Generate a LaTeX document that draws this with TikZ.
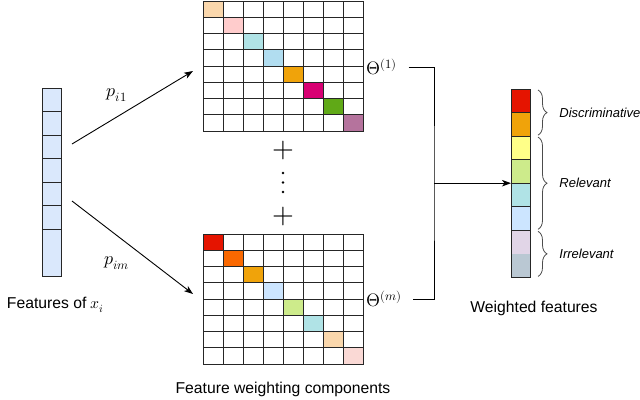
\documentclass[tikz,border=0pt]{standalone}
\usepackage{fontspec}
\usepackage{unicode-math}
\setmainfont{Liberation Sans}
\usetikzlibrary{positioning,arrows.meta,decorations.pathreplacing}

\definecolor{cRed}{HTML}{E51400}
\definecolor{cOrange}{HTML}{FA6800}
\definecolor{cAmber}{HTML}{F0A30A}
\definecolor{cYellow}{HTML}{FFFF88}
\definecolor{cLime}{HTML}{CDEB8B}
\definecolor{cCyan}{HTML}{B0E3E6}
\definecolor{cSky}{HTML}{CCE5FF}
\definecolor{cLilac}{HTML}{E1D5E7}
\definecolor{cSlate}{HTML}{BAC8D3}
\definecolor{cPeach}{HTML}{FAD7AC}
\definecolor{cPink}{HTML}{FFCCCC}
\definecolor{cBlue}{HTML}{B1DDF0}
\definecolor{cMagenta}{HTML}{D80073}
\definecolor{cGreen}{HTML}{60A917}
\definecolor{cMauve}{HTML}{B5739D}
\definecolor{cRose}{HTML}{FAD9D5}
\definecolor{cFeat}{HTML}{DAE8FC}

\begin{document}
\begin{tikzpicture}[
  x=1pt, y=-1pt,
  font=\fontsize{15.7}{18}\selectfont,
  >={Stealth[length=9pt,width=6.5pt,inset=2.5pt]},
  line width=0.9pt,
  vcell/.style={minimum width=19pt, minimum height=23.55pt, inner sep=0pt, outer sep=0pt},
  mcell/.style={draw=black!85, fill=white, minimum width=20pt, minimum height=16.25pt,
                inner sep=0pt, outer sep=0pt},
  col/.style={draw=black!85, minimum width=19pt, minimum height=188.4pt, inner sep=0pt, outer sep=0pt},
  grp/.style={minimum width=160pt, minimum height=130pt, inner sep=0pt, outer sep=0pt},
  lbl/.style={inner sep=1pt},
  mlbl/.style={inner sep=1pt, font=\fontsize{18}{20}\selectfont},
  brc/.style={draw=black!70, line width=0.8pt, decorate, decoration={brace, amplitude=9pt}},
  side/.style={inner sep=1pt, font=\fontsize{13}{15}\selectfont\itshape},
  dot/.style={circle, fill, inner sep=0pt, minimum size=2.8pt},
]
\useasboundingbox (0,0) rectangle (640,399);

% features of x_i
\foreach \k in {0,...,7}
  \node[vcell, fill=cFeat] (f\k) at (51.5, 99.8+23.55*\k) {};
\node[col] (feat) at (51.5, 182.2) {};
\foreach \k in {0,...,5}
  \draw[black!85] (f\k.south west) -- (f\k.south east);
\node[lbl, below=19.5pt of feat, xshift=4pt] (featlbl) {Features of $x_i$};

% weighting components
\foreach \m/\ytop in {1/1, m/234} {
  \node[grp] (comp\m) at (283, \ytop+65) {};
  \foreach \r in {0,...,7}
    \foreach \c in {0,...,7}
      \node[mcell] (c\m\r\c) at (213+20*\c, \ytop+8.125+16.25*\r) {};
}
\foreach \col [count=\k from 0] in {cPeach,cPink,cCyan,cBlue,cAmber,cMagenta,cGreen,cMauve}
  \node[mcell, fill=\col] (d1\k) at (213+20*\k, 9.125+16.25*\k) {};
\foreach \col [count=\k from 0] in {cRed,cOrange,cAmber,cSky,cLime,cCyan,cPeach,cRose}
  \node[mcell, fill=\col] (dm\k) at (213+20*\k, 242.125+16.25*\k) {};
\node[lbl, below=17pt of compm] (complbl) {Feature weighting components};

\node (plus1) at (283,150) {\fontsize{28}{28}\selectfont$+$};
\foreach \k in {0,1,2}
  \node[dot] (dt\k) at (283,173+9.5*\k) {};
\node (plus2) at (283,216) {\fontsize{28}{28}\selectfont$+$};

\draw[->] ([shift={(11,-38.2)}]feat.east) -- ([shift={(-10,5)}]comp1.west)
  node[mlbl, pos=0.37, above=14pt] (p1) {$p_{i1}$};
\draw[->] ([shift={(11,18.8)}]feat.east) -- ([shift={(-10,-5)}]compm.west)
  node[mlbl, pos=0.37, below=20pt] (pm) {$p_{im}$};

\node[mlbl, anchor=west] (th1) at ([shift={(2,1)}]comp1.east) {$\Theta^{(1)}$};
\node[mlbl, anchor=west] (thm) at ([shift={(2,0)}]compm.east) {$\Theta^{(m)}$};

% weighted features
\foreach \col [count=\k from 0] in {cRed,cAmber,cYellow,cLime,cCyan,cSky,cLilac,cSlate}
  \node[vcell, fill=\col] (w\k) at (520.5, 100.8+23.55*\k) {};
\node[col] (wfeat) at (520.5, 183.2) {};
\foreach \k in {0,...,5}
  \draw[black!85] (w\k.south west) -- (w\k.south east);
\node[lbl, below=22.5pt of wfeat, xshift=13.5pt] (wlbl) {Weighted features};

\coordinate (join) at (434,183.2);
\draw ([xshift=10pt]th1.east) -| (join) |- ([xshift=10pt]thm.east);
\draw[->] (join) -- (wfeat);

\draw[brc] ([xshift=8pt,yshift=-1pt]w0.north east) -- ([xshift=8pt,yshift=1pt]w1.south east)
  node[side, midway, right=20pt] (disc) {Discriminative};
\draw[brc] ([xshift=8pt,yshift=-1pt]w2.north east) -- ([xshift=8pt,yshift=1pt]w5.south east)
  node[side, midway, right=20pt] (rel) {Relevant};
\draw[brc] ([xshift=8pt,yshift=-1pt]w6.north east) -- ([xshift=8pt,yshift=1pt]w7.south east)
  node[side, midway, right=20pt] (irr) {Irrelevant};
\end{tikzpicture}
\end{document}
